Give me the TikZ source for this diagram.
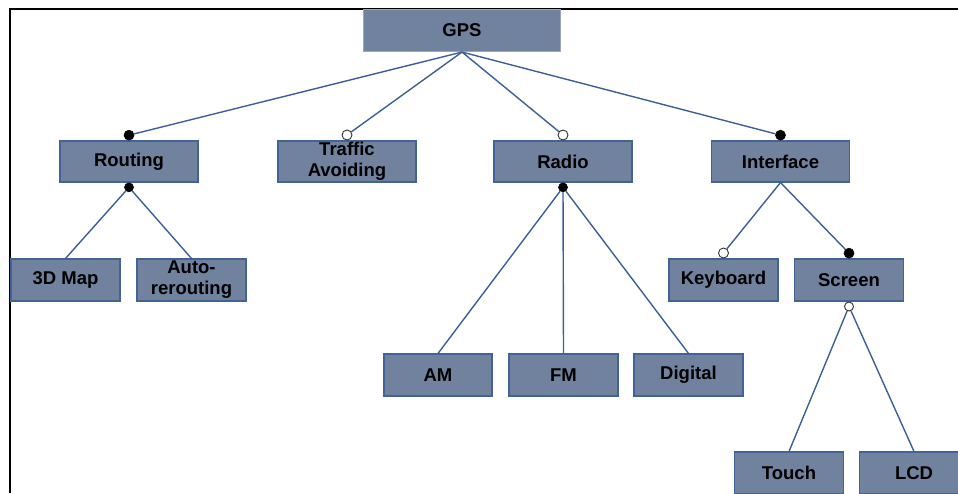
\documentclass[tikz,border=0pt]{standalone}
\usepackage{fontspec}
\setmainfont{Liberation Sans}
\definecolor{boxfill}{RGB}{112,130,158}
\definecolor{boxedge}{RGB}{66,99,150}
\definecolor{linkblue}{RGB}{60,95,150}
\begin{document}
\begin{tikzpicture}[x=1pt,y=-1pt,
  feature/.style={rectangle, draw=boxedge, line width=1.1pt, fill=boxfill,
    minimum width=109pt, minimum height=42pt, inner sep=0pt, align=center,
    font=\fontsize{18.5}{21}\selectfont\bfseries, text=black},
  topfeature/.style={feature, minimum width=138pt, minimum height=41pt},
  rootfeature/.style={feature, draw=boxfill!70!white, minimum width=197pt},
  link/.style={draw=linkblue, line width=1.4pt},
  mandatory/.style={circle, fill=black, draw=black, line width=0.6pt, minimum size=10pt, inner sep=0pt},
  optional/.style={circle, fill=white, draw=black!80, line width=0.9pt, minimum size=10pt, inner sep=0pt},
]
\useasboundingbox (0,0) rectangle (958,493);

% frame
\draw[line width=2pt] (10,493) -- (10,9) -- (958,9);

% feature boxes
\node[rootfeature] (gps) at (462,30.5) {GPS};
\node[topfeature] (routing) at (129,161.5) {Routing};
\node[topfeature] (traffic) at (347,161.5) {Traffic\\Avoiding};
\node[topfeature] (radio) at (563,161.5) {Radio};
\node[topfeature] (interface) at (780.5,161.5) {Interface};

\node[feature] (map) at (65.5,280) {3D Map};
\node[feature] (reroute) at (191.5,280) {Auto-\\rerouting};
\node[feature, minimum width=108pt] (am) at (438,375) {AM};
\node[feature] (fm) at (563.5,375) {FM};
\node[feature] (digital) at (688.5,375) {Digital};
\node[feature] (keyboard) at (723.5,280) {Keyboard};
\node[feature] (screen) at (849,280) {Screen};
\node[feature] (touch) at (789,473) {Touch};
\node[feature] (lcd) at (914,473) {LCD};

% markers on child features
\node[mandatory, anchor=south] (mRouting) at (routing.north) {};
\node[optional, anchor=south] (mTraffic) at (traffic.north) {};
\node[optional, anchor=south] (mRadio) at (radio.north) {};
\node[mandatory, anchor=south] (mInterface) at (interface.north) {};
\node[optional, anchor=south] (mKeyboard) at (keyboard.north) {};
\node[mandatory, anchor=south] (mScreen) at (screen.north) {};

% group markers under parent features
\node[mandatory, minimum size=9pt, anchor=north] (gRouting) at (routing.south) {};
\node[mandatory, minimum size=9pt, anchor=north] (gRadio) at (radio.south) {};
\node[optional, minimum size=9pt, anchor=north] (gScreen) at (screen.south) {};

% connectors
\draw[link] (gps.south) -- (mRouting);
\draw[link] (gps.south) -- (mTraffic);
\draw[link] (gps.south) -- (mRadio);
\draw[link] (gps.south) -- (mInterface);

\draw[link] (gRouting) -- (map.north);
\draw[link] (gRouting) -- (reroute.north);

\draw[link] (gRadio) -- (am.north);
\draw[link] (gRadio) -- (fm.north);
\draw[link] (gRadio) -- (digital.north);

\draw[link] (interface.south) -- (mKeyboard);
\draw[link] (interface.south) -- (mScreen);

\draw[link] (gScreen) -- (touch.north);
\draw[link] (gScreen) -- (lcd.north);
\end{tikzpicture}
\end{document}
